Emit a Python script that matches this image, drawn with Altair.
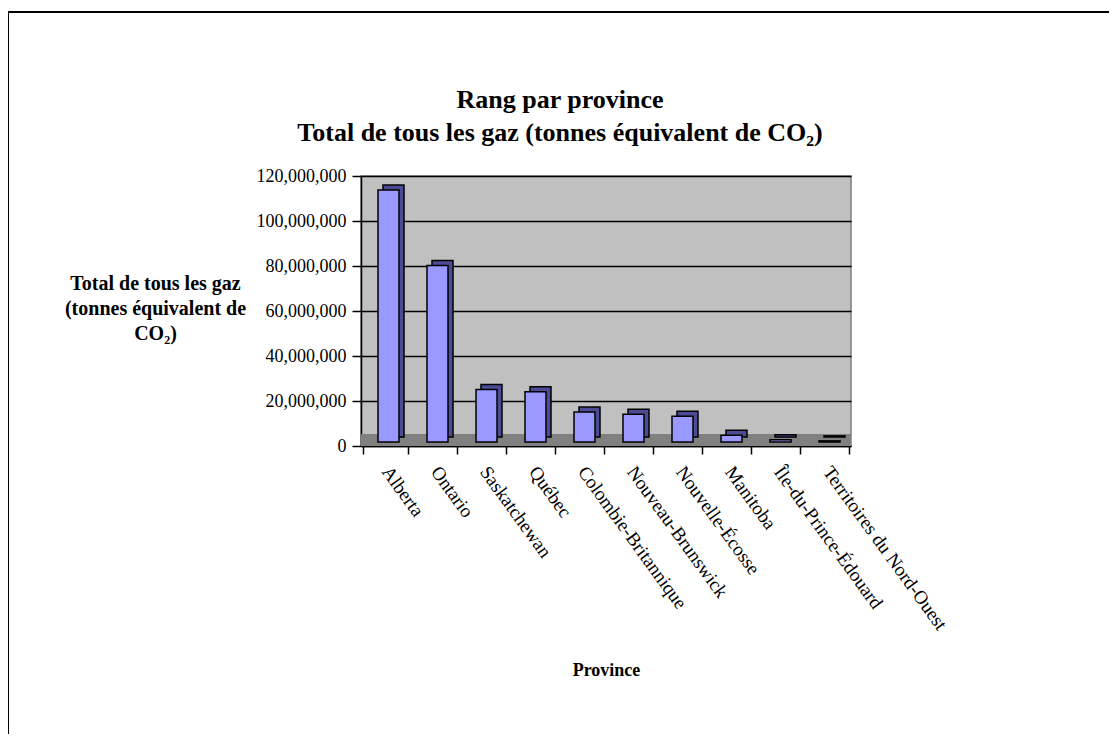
import altair as alt
import pandas as pd

provinces = [
    "Alberta", "Ontario", "Saskatchewan", "Québec", "Colombie-Britannique",
    "Nouveau-Brunswick", "Nouvelle-Écosse", "Manitoba",
    "Île-du-Prince-Édouard", "Territoires du Nord-Ouest",
]
totals = [
    112000000, 78500000, 23300000, 22300000, 13300000,
    12300000, 11400000, 3000000, 1000000, 500000,
]
y_ticks = [0, 20000000, 40000000, 60000000, 80000000, 100000000, 120000000]
title_lines = ["Rang par province",
               "Total de tous les gaz (tonnes équivalent de CO₂)"]

df = pd.DataFrame({"province": provinces, "total": totals})
one = pd.DataFrame({"k": [0]})

FONT = "Liberation Serif"
W, H = 490, 270

x_enc = alt.X(
    "province:N", sort=None, title="Province",
    axis=alt.Axis(
        labelAngle=54, labelAlign="left", labelBaseline="middle",
        labelFontSize=19, labelPadding=14, labelColor="black", labelFont=FONT,
        labelOverlap=False, labelLimit=400,
        tickBand="extent", tickSize=8, tickColor="black", tickWidth=1.5,
        domainColor="black", domainWidth=1.5, grid=False,
        titleFont=FONT, titleFontSize=18, titleFontWeight="bold",
        titleColor="black", titleY=224, titleBaseline="middle",
    ),
)
y_enc = alt.Y(
    "total:Q",
    scale=alt.Scale(domain=[0, 120000000], nice=False),
    title=["Total de tous les gaz", "(tonnes équivalent de", "CO₂)"],
    axis=alt.Axis(
        values=y_ticks, format=",d",
        labelFont=FONT, labelFontSize=18, labelColor="black", labelPadding=6,
        tickSize=9, tickColor="black", tickWidth=1.5,
        domainColor="black", domainWidth=1.5,
        grid=True, gridColor="black", gridWidth=1.5,
        titleAngle=0, titleAlign="center", titleBaseline="top",
        titleX=-206, titleY=97, titleLineHeight=25,
        titleFont=FONT, titleFontSize=20, titleFontWeight="bold",
        titleColor="black",
    ),
)

floor = alt.Chart(one).mark_rect(color="#808080").encode(
    x=alt.value(0), x2=alt.value(W), y=alt.value(H - 12), y2=alt.value(H)
)

side = alt.Chart(df).mark_bar(
    width=21, xOffset=8, yOffset=-9, color="#4C4C94",
    stroke="black", strokeWidth=1.5,
).encode(x=x_enc, y=y_enc)

front = alt.Chart(df).mark_bar(
    width=21, xOffset=3, yOffset=-4, color="#9999FF",
    stroke="black", strokeWidth=1.5,
).encode(x=x_enc, y=y_enc)

title1 = alt.Chart(one).mark_text(
    text=title_lines[0], font=FONT, fontSize=26, fontWeight="bold",
    color="black", align="center", baseline="middle",
).encode(x=alt.value(199), y=alt.value(-76))
title2 = alt.Chart(one).mark_text(
    text=title_lines[1], font=FONT, fontSize=26, fontWeight="bold",
    color="black", align="center", baseline="middle",
).encode(x=alt.value(199), y=alt.value(-43))

border_top = alt.Chart(one).mark_rule(color="black", strokeWidth=2).encode(
    x=alt.value(-353), x2=alt.value(760), y=alt.value(-164)
)
border_left = alt.Chart(one).mark_rule(color="black", strokeWidth=2).encode(
    x=alt.value(-353), y=alt.value(-164), y2=alt.value(600)
)

chart = alt.layer(
    floor, side, front, title1, title2, border_top, border_left
).properties(
    width=W, height=H,
    background="white",
    autosize=alt.AutoSizeParams(type="none"),
    padding={"left": 353, "top": 168, "right": 258, "bottom": 288},
).configure_view(
    fill="#C0C0C0", stroke="#808080", strokeWidth=1.5
)

chart.save("out.html", embed_options={"renderer": "svg", "actions": False})
